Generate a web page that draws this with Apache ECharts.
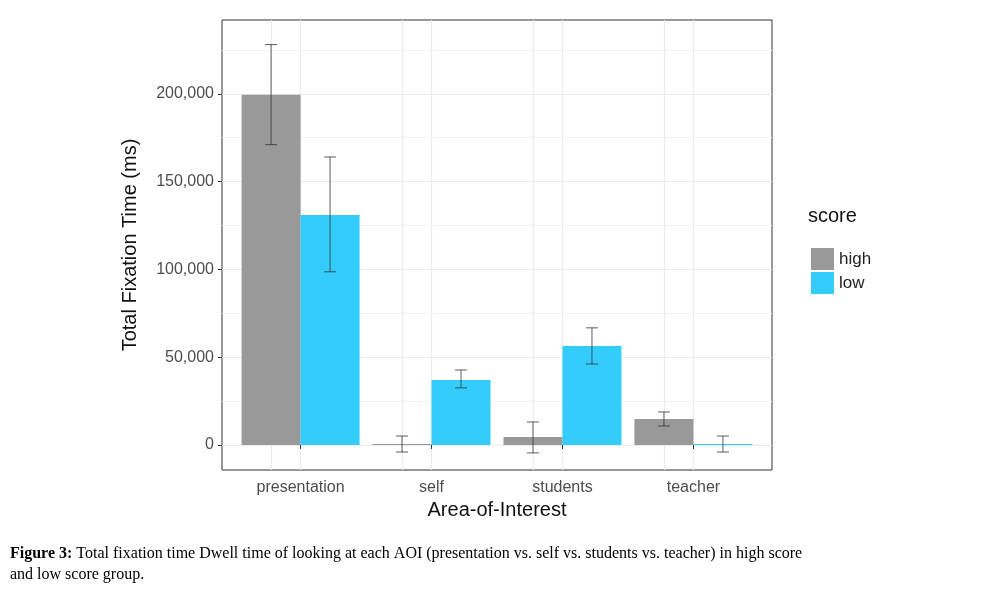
<!DOCTYPE html>
<html><head><meta charset="utf-8">
<script src="https://cdn.jsdelivr.net/npm/echarts@6/dist/echarts.min.js"></script>
<style>html,body{margin:0;background:#fff}#c{width:1000px;height:593px}</style>
</head><body><div id="c"></div>
<script>
// data
const categories = ['presentation', 'self', 'students', 'teacher'];
const highMean = [199500, 500, 4500, 14800];
const highLo = [171000, -4000, -4500, 10800];
const highHi = [228000, 5100, 13100, 18800];
const lowMean = [131000, 37000, 56400, 500];
const lowLo = [98600, 32500, 46100, -4000];
const lowHi = [164000, 42700, 66700, 5100];
const yTicks = [0, 50000, 100000, 150000, 200000];
const yMinor = [25000, 75000, 125000, 175000, 225000];

const chart = echarts.init(document.getElementById('c'));
const BW = 59;

function errSeries(name, mean, lo, hi, dir) {
    return {
        type: 'custom', name: name + '-err', z: 5, silent: true,
        data: mean.map((m, i) => [i + 1, lo[i], hi[i]]),
        renderItem: (params, api) => {
            const top = api.coord([api.value(0), api.value(2)]);
            const bot = api.coord([api.value(0), api.value(1)]);
            const x = top[0] + dir * BW / 2;
            const w = 6;
            const st = { stroke: '#333', lineWidth: 0.8 };
            return { type: 'group', children: [
                { type: 'line', shape: { x1: x, y1: top[1], x2: x, y2: bot[1] }, style: st },
                { type: 'line', shape: { x1: x - w, y1: top[1], x2: x + w, y2: top[1] }, style: st },
                { type: 'line', shape: { x1: x - w, y1: bot[1], x2: x + w, y2: bot[1] }, style: st }
            ] };
        }
    };
}

chart.setOption({
    backgroundColor: '#fff',
    animation: false,
    grid: { left: 222, right: 228, top: 20, bottom: 123, show: true, borderColor: '#333', borderWidth: 1 },
    legend: {
        data: ['high', 'low'], orient: 'vertical', left: 806, top: 243, itemWidth: 23, itemHeight: 22, itemGap: 2,
        icon: 'rect', textStyle: { fontSize: 17, color: '#222', fontFamily: 'Liberation Sans' }
    },
    graphic: [
        { type: 'text', left: 808, top: 206, style: { text: 'score', fontSize: 20, fill: '#111', fontFamily: 'Liberation Sans' } },
        { type: 'text', left: 10, top: 543, style: {
            text: '{b|Figure 3:} Total fixation time Dwell time of looking at each AOI (presentation vs. self vs. students vs. teacher) in high score\nand low score group.',
            rich: { b: { fontWeight: 'bold', fontSize: 16, fontFamily: 'Liberation Serif', fill: '#000' } },
            fontSize: 16, lineHeight: 21, fontFamily: 'Liberation Serif', fill: '#000' } }
    ],
    xAxis: {
        type: 'value', min: 0.4, max: 4.6,
        name: 'Area-of-Interest', nameLocation: 'middle', nameGap: 27,
        nameTextStyle: { fontSize: 20, color: '#111', fontFamily: 'Liberation Sans' },
        axisLine: { show: false },
        axisTick: { show: true, customValues: [1, 2, 3, 4], length: 4, lineStyle: { color: '#333' } },
        axisLabel: { customValues: [1, 2, 3, 4], formatter: v => categories[Math.round(v) - 1] || '',
            fontSize: 16, color: '#4d4d4d', margin: 10, fontFamily: 'Liberation Sans' },
        splitLine: { show: true, lineStyle: { color: '#ebebeb', width: 1.2 } }
    },
    yAxis: {
        type: 'value', min: -14250, max: 242000,
        name: 'Total Fixation Time (ms)', nameLocation: 'middle', nameGap: 82,
        nameTextStyle: { fontSize: 20, color: '#111', fontFamily: 'Liberation Sans' },
        axisLine: { show: false },
        axisTick: { show: true, customValues: yTicks, length: 4, lineStyle: { color: '#333' } },
        axisLabel: { customValues: yTicks, fontSize: 16, color: '#4d4d4d', margin: 8, fontFamily: 'Liberation Sans' },
        splitLine: { show: true, lineStyle: { color: '#ebebeb', width: 1.2 } }
    },
    series: [
        { name: 'high', type: 'bar', barWidth: BW, barGap: '0%', itemStyle: { color: '#999999' },
          data: highMean.map((v, i) => [i + 1, v]),
          markLine: { silent: true, symbol: 'none', label: { show: false },
              lineStyle: { color: '#f3f3f3', type: 'solid', width: 1 },
              data: yMinor.map(v => ({ yAxis: v })).concat([1, 2, 3, 4].map(v => ({ xAxis: v, lineStyle: { color: '#ebebeb', width: 1.2 } }))) , z: 0 } },
        { name: 'low', type: 'bar', barWidth: BW, barGap: '0%', itemStyle: { color: '#33ccfb' },
          data: lowMean.map((v, i) => [i + 1, v]) },
        errSeries('high', highMean, highLo, highHi, -1),
        errSeries('low', lowMean, lowLo, lowHi, 1)
    ]
});
</script></body></html>
